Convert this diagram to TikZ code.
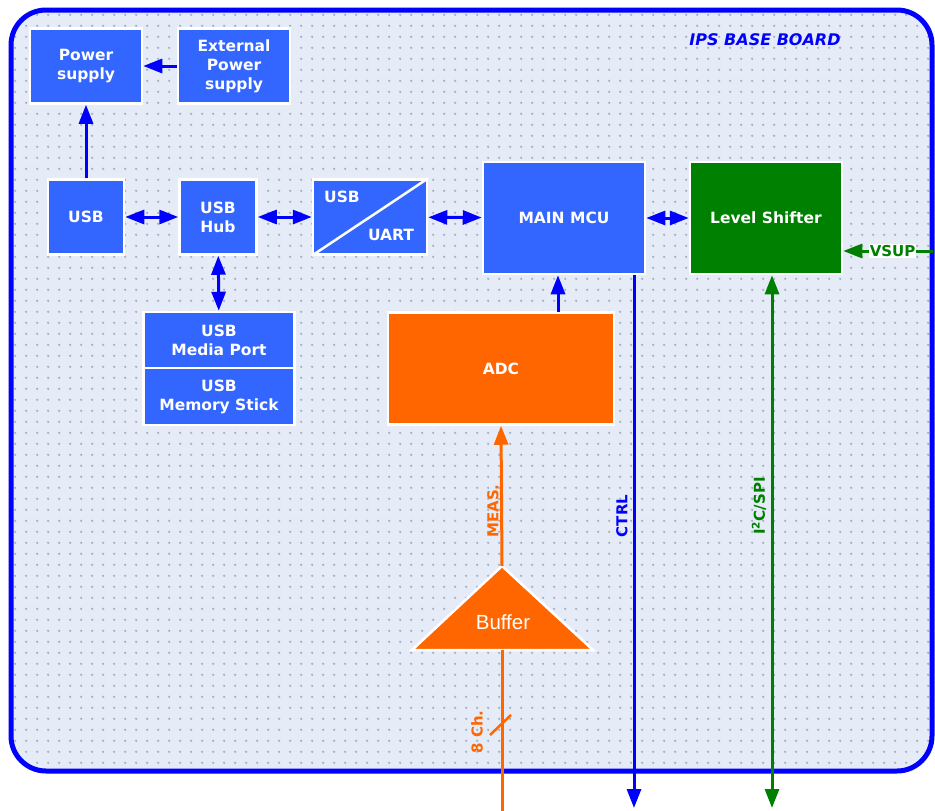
\documentclass[tikz,border=0pt]{standalone}
\usepackage{fontspec}
\usepackage{xcolor}
\usepackage{tikz}
\usetikzlibrary{arrows.meta, patterns.meta}
\setmainfont{DejaVu Sans}
\newfontfamily\arialfont{Liberation Sans}

\definecolor{boxblue}{RGB}{51,102,255}
\definecolor{lineblue}{RGB}{0,0,255}
\definecolor{adcorange}{RGB}{255,102,0}
\definecolor{lsgreen}{RGB}{0,128,0}
\definecolor{boardbg}{RGB}{230,236,247}
\definecolor{dotgray}{RGB}{168,178,198}

\tikzdeclarepattern{
  name=boarddots,
  type=uncolored,
  bounding box={(0pt,0pt) and (10.7pt,10.7pt)},
  tile size={(10.7pt,10.7pt)},
  code={\fill (5.35pt,5.35pt) circle (1.3pt);}
}

\begin{document}
\begin{tikzpicture}[x=1pt, y=-1pt, >={Triangle[length=19pt,width=14pt]},
  blk/.style={draw=white, line width=2.5pt, fill=boxblue, text=white,
    font=\bfseries\fontsize{15.5}{19}\selectfont, align=center, inner sep=0pt},
  link/.style={line width=3pt, lineblue},
  sig/.style={font=\bfseries\fontsize{15}{18}\selectfont, rotate=90, inner sep=1pt}]
\useasboundingbox (0,0) rectangle (935,811);

% board
\fill[boardbg, rounded corners=35pt] (11,10) rectangle (932,771);
\fill[pattern=boarddots, pattern color=dotgray, rounded corners=35pt] (11,10) rectangle (932,771);
\draw[lineblue, line width=5pt, rounded corners=35pt] (11,10) rectangle (932,771);
\node[font=\bfseries\itshape\fontsize{16}{18}\selectfont, text=lineblue] (title) at (765,40) {IPS BASE BOARD};

% blocks
\node[blk, minimum width=112pt, minimum height=75pt] (pwr) at (86,66) {Power\\supply};
\node[blk, minimum width=112pt, minimum height=75pt] (extpwr) at (234,66) {External\\Power\\supply};
\node[blk, minimum width=76pt, minimum height=75pt] (usb) at (86,217) {USB};
\node[blk, minimum width=77pt, minimum height=75pt] (hub) at (218,217) {USB\\Hub};
\node[blk, minimum width=114pt, minimum height=75pt] (uart) at (370,217) {};
\draw[white, line width=2.5pt] (uart.south west) -- (uart.north east);
\node[text=white, font=\bfseries\fontsize{15.5}{19}\selectfont] (uartusb) at (342,197) {USB};
\node[text=white, font=\bfseries\fontsize{15.5}{19}\selectfont] (uartuart) at (391,235) {UART};
\node[blk, minimum width=162pt, minimum height=112pt] (mcu) at (564,218) {MAIN MCU};
\node[blk, fill=lsgreen, minimum width=152pt, minimum height=112pt] (ls) at (766,218) {Level Shifter};
\node[blk, minimum width=151pt, minimum height=56pt] (media) at (219,340) {USB\\Media Port};
\node[blk, minimum width=151pt, minimum height=57pt] (stick) at (219,396.5) {USB\\Memory Stick};
\node[blk, fill=adcorange, minimum width=226pt, minimum height=112pt] (adc) at (501,368.5) {ADC};

% buffer
\coordinate (bufTop) at (502,566);
\coordinate (bufBot) at (502,650);
\coordinate (chin) at (502,811);
\filldraw[fill=adcorange, draw=white, line width=2.5pt] (bufTop) -- (593,650) -- (412,650) -- cycle;
\node[text=white, font=\arialfont\fontsize{20.5}{24}\selectfont] (buf) at (503,622) {Buffer};

% connectors
\coordinate (adcout) at (558,312);
\coordinate (ctrlend) at (634,808);
\coordinate (busend) at (772,808);
\coordinate (vsupin) at (933,251);
\draw[link, ->] (extpwr.west) -- (pwr.east);
\draw[link, ->] (usb.north) -- (pwr.south);
\draw[link, <->] (usb) -- (hub);
\draw[link, <->] (hub) -- (uart);
\draw[link, <->] (uart) -- (mcu);
\draw[link, <->] (mcu) -- (ls);
\draw[link, <->] (hub) -- (media);
\draw[link, ->] (adcout) -- (mcu.south -| adcout);
\draw[link, ->] (mcu.south -| ctrlend) -- (ctrlend);
\draw[line width=3pt, lsgreen, <->] (ls.south -| busend) -- (busend);
\draw[line width=3pt, lsgreen, ->] (vsupin) -- (vsupin -| ls.east)
  node[pos=0.45, fill=white, text=lsgreen, inner sep=1pt, font=\bfseries\fontsize{15}{18}\selectfont] (vsup) {VSUP};
\draw[line width=3pt, adcorange, ->] (bufTop) -- (adc.south);
\draw[line width=3pt, adcorange] (chin) -- (bufBot);
\draw[line width=2.5pt, adcorange] (490,735) -- (511,715);

% signal labels
\node[sig, text=adcorange] (meas) at (493,511) {MEAS.};
\node[sig, text=lineblue] (ctrl) at (622,516) {CTRL};
\node[sig, text=lsgreen] (bus) at (759,506) {I\textsuperscript{2}C/SPI};
\node[sig, text=adcorange] (chan) at (477,732) {8 Ch.};
\end{tikzpicture}
\end{document}
